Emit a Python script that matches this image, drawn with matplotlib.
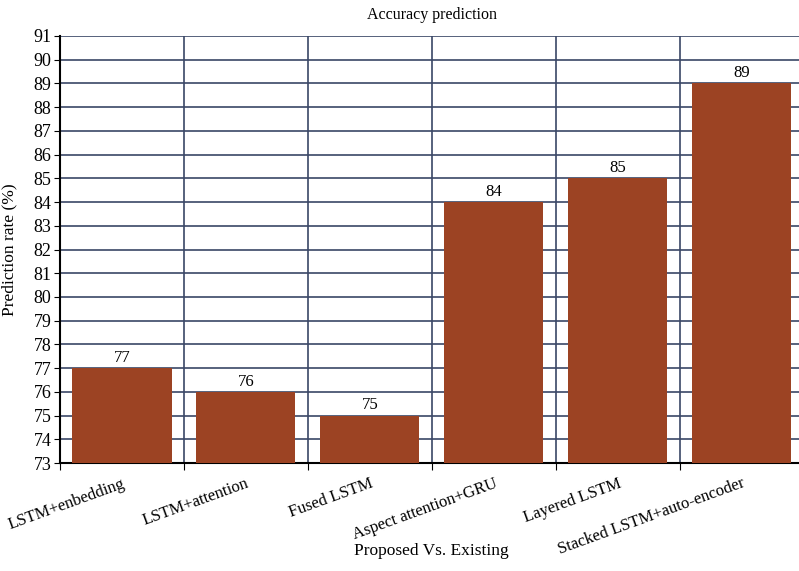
import matplotlib
matplotlib.use("Agg")
import matplotlib.pyplot as plt
import numpy as np

# data
methods = ["LSTM+enbedding", "LSTM+attention", "Fused LSTM",
           "Aspect attention+GRU", "Layered LSTM", "Stacked LSTM+auto-encoder"]
accuracy = [77, 76, 75, 84, 85, 89]
y_ticks = list(range(73, 92))

plt.rcParams['font.family'] = ['Liberation Serif', 'DejaVu Serif']

bar_color = "#9C4323"
grid_color = "#3A4766"

fig = plt.figure(figsize=(7.99, 5.71), dpi=100)
ax = fig.add_axes([0.075, 0.189, 0.931, 0.748])

x = np.arange(len(methods)) + 0.5
bars = ax.bar(x, np.array(accuracy) - 73, bottom=73, width=0.8, color=bar_color, zorder=3)

for xi, v in zip(x, accuracy):
    ax.text(xi, v + 0.1, str(v), ha='center', va='bottom', fontsize=12, zorder=4,
            bbox=dict(facecolor='white', edgecolor='none', pad=1))

ax.set_xlim(0, len(methods))
ax.set_ylim(73, 91)
ax.set_yticks(y_ticks)
ax.tick_params(axis='y', labelsize=13, length=4, pad=2, color='black')

# boundaries carry grid lines and ticks, centres carry the labels
ax.set_xticks(np.arange(len(methods) + 1))
ax.set_xticklabels([])
ax.set_xticks(x, minor=True)
ax.set_xticklabels(methods, minor=True, rotation=20, ha='right', rotation_mode='anchor', fontsize=12)
ax.tick_params(axis='x', which='minor', length=0, pad=9)
ax.tick_params(axis='x', which='major', length=5)

ax.grid(True, which='major', color=grid_color, linewidth=1.2, zorder=0)
ax.set_axisbelow(True)

for side in ['top', 'right']:
    ax.spines[side].set_visible(False)
ax.spines['left'].set_linewidth(1.5)
ax.spines['bottom'].set_linewidth(1.5)

ax.set_title("Accuracy prediction", fontsize=11.5, pad=12)
ax.set_ylabel("Prediction rate (%)", fontsize=12.5)
ax.yaxis.set_label_coords(-0.057, 0.5)
ax.set_xlabel("Proposed Vs. Existing", fontsize=12.5, va='center')
ax.xaxis.set_label_coords(0.5, -0.206)

fig.savefig("out.png", dpi=100)
